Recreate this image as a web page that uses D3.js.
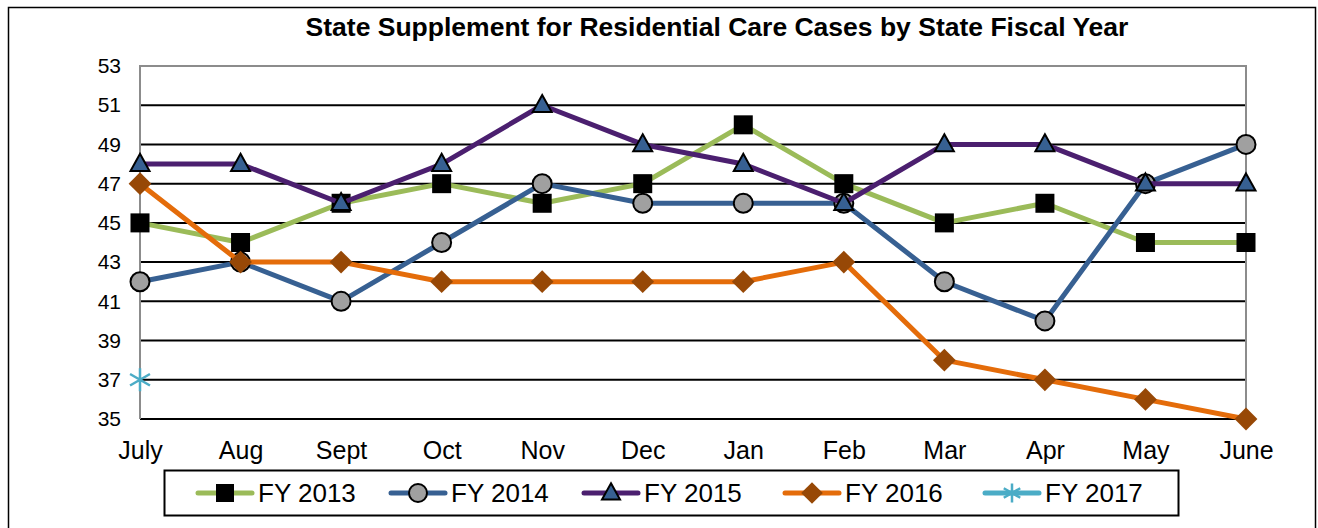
<!DOCTYPE html>
<html>
<head>
<meta charset="utf-8">
<script src="https://cdn.jsdelivr.net/npm/d3@7"></script>
<style>
  body { margin: 0; background: #fff; }
  svg { display: block; font-family: Arial, "Liberation Sans", sans-serif; }
</style>
</head>
<body>
<svg id="chart" width="1318" height="528"></svg>
<script>
// chart data
var months = ["July", "Aug", "Sept", "Oct", "Nov", "Dec", "Jan", "Feb", "Mar", "Apr", "May", "June"];
var yTicks = [35, 37, 39, 41, 43, 45, 47, 49, 51, 53];
var seriesNames = ["FY 2013", "FY 2014", "FY 2015", "FY 2016", "FY 2017"];

var fy2013 = [45, 44, 46, 47, 46, 47, 50, 47, 45, 46, 44, 44];
var fy2014 = [42, 43, 41, 44, 47, 46, 46, 46, 42, 40, 47, 49];
var fy2015 = [48, 48, 46, 48, 51, 49, 48, 46, 49, 49, 47, 47];
var fy2016 = [47, 43, 43, 42, 42, 42, 42, 43, 38, 37, 36, 35];
var fy2017 = [37];

var seriesValues = [fy2013, fy2014, fy2015, fy2016, fy2017];

// styles per series
var styles = [
    {line: "#9BBB59", marker: "square", fill: "#000000", stroke: "none"},
    {line: "#376092", marker: "circle", fill: "#A0A0A0", stroke: "#000"},
    {line: "#4B1F6F", marker: "triangle", fill: "#376092", stroke: "#000"},
    {line: "#E46C0A", marker: "diamond", fill: "#974806", stroke: "none"},
    {line: "#4BACC6", marker: "star", fill: "none", stroke: "#4BACC6"}
];

var svg = d3.select("#chart");

var plotLeft = 140, plotRight = 1246, plotTop = 66, plotBottom = 419;

var x = d3.scalePoint().domain(months).range([plotLeft, plotRight]);
var y = d3.scaleLinear().domain([35, 53]).range([plotBottom, plotTop]);

// outer frame
svg.append("rect")
    .attr("x", 8.5).attr("y", 7.5)
    .attr("width", 1307).attr("height", 530)
    .attr("fill", "none").attr("stroke", "#000").attr("stroke-width", 1.5);

// title
svg.append("text")
    .attr("x", 717).attr("y", 36)
    .attr("text-anchor", "middle")
    .attr("font-size", 26.5).attr("font-weight", "bold")
    .text("State Supplement for Residential Care Cases by State Fiscal Year");

// gridlines
svg.append("g")
    .selectAll("line")
    .data(yTicks.filter(function (d) { return d < 53; }))
    .enter().append("line")
    .attr("x1", plotLeft).attr("x2", plotRight)
    .attr("y1", function (d) { return y(d); })
    .attr("y2", function (d) { return y(d); })
    .attr("stroke", "#000").attr("stroke-width", 2);

// plot frame top / sides in grey
svg.append("path")
    .attr("d", "M" + plotLeft + "," + plotBottom + "V" + plotTop + "H" + plotRight + "V" + plotBottom)
    .attr("fill", "none").attr("stroke", "#8c8c8c").attr("stroke-width", 2);

// y axis
var yAxis = svg.append("g")
    .attr("transform", "translate(" + plotLeft + ",0)")
    .call(d3.axisLeft(y).tickValues(yTicks).tickSize(0).tickPadding(19));
yAxis.select(".domain").remove();
yAxis.selectAll("text").attr("font-size", 21).attr("fill", "#000")
    .attr("font-family", "Arial, 'Liberation Sans', sans-serif");

// x axis
var xAxis = svg.append("g")
    .attr("transform", "translate(0," + plotBottom + ")")
    .call(d3.axisBottom(x).tickSize(0).tickPadding(22));
xAxis.select(".domain").remove();
xAxis.selectAll("text").attr("font-size", 25).attr("fill", "#000")
    .attr("font-family", "Arial, 'Liberation Sans', sans-serif");

function drawMarker(g, type, st, size) {
    var m;
    if (type === "square") {
        m = g.append("rect").attr("x", -size / 2).attr("y", -size / 2)
            .attr("width", size).attr("height", size);
    } else if (type === "circle") {
        m = g.append("circle").attr("r", size / 2);
    } else if (type === "triangle") {
        var h = size * 0.9;
        m = g.append("path").attr("d", "M0," + (-h * 0.6) + "L" + (size / 2) + "," + (h * 0.4) + "L" + (-size / 2) + "," + (h * 0.4) + "Z");
    } else if (type === "diamond") {
        var r = size * 0.6;
        m = g.append("path").attr("d", "M0," + (-r) + "L" + r + ",0L0," + r + "L" + (-r) + ",0Z");
    } else {
        var a = size / 2, d = "";
        for (var k = 0; k < 3; k++) {
            var ang = Math.PI / 2 + k * Math.PI / 3;
            d += "M" + (a * Math.cos(ang)) + "," + (a * Math.sin(ang)) + "L" + (-a * Math.cos(ang)) + "," + (-a * Math.sin(ang));
        }
        m = g.append("path").attr("d", d).attr("stroke-width", 2.5);
    }
    m.attr("fill", st.fill).attr("stroke", st.stroke);
    if (type !== "star") m.attr("stroke-width", st.stroke === "none" ? 0 : 2);
}

var line = d3.line()
    .x(function (d, i) { return x(months[i]); })
    .y(function (d) { return y(d); });

seriesValues.forEach(function (vals, si) {
    var st = styles[si];
    svg.append("path")
        .datum(vals)
        .attr("d", line)
        .attr("fill", "none")
        .attr("stroke", st.line)
        .attr("stroke-width", 5)
        .attr("stroke-linejoin", "round");
    vals.forEach(function (v, i) {
        var g = svg.append("g").attr("transform", "translate(" + x(months[i]) + "," + y(v) + ")");
        drawMarker(g, st.marker, st, st.marker === "star" ? 23 : 19);
    });
});

// legend
svg.append("rect")
    .attr("x", 164.5).attr("y", 470.5)
    .attr("width", 1014).attr("height", 45)
    .attr("fill", "#fff").attr("stroke", "#000").attr("stroke-width", 2);

var legendX = [198, 391, 584, 785, 985];
seriesNames.forEach(function (name, si) {
    var st = styles[si];
    var g = svg.append("g").attr("transform", "translate(" + legendX[si] + ",493)");
    g.append("line").attr("x1", 0).attr("x2", 54)
        .attr("stroke", st.line).attr("stroke-width", 5).attr("stroke-linecap", "round");
    var mg = g.append("g").attr("transform", "translate(27,0)");
    drawMarker(mg, st.marker, st, st.marker === "star" ? 19 : 18);
    g.append("text").attr("x", 60).attr("y", 9)
        .attr("font-size", 26).text(name);
});
</script>
</body>
</html>
